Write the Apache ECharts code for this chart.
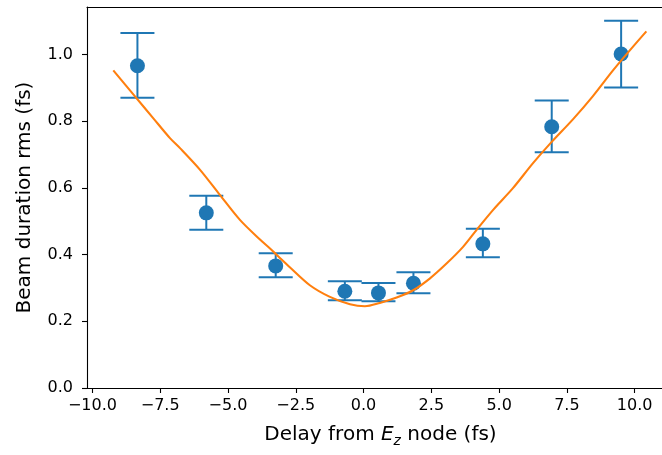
<!DOCTYPE html>
<html>
<head>
<meta charset="utf-8">
<script src="https://cdn.jsdelivr.net/npm/echarts@6/dist/echarts.min.js"></script>
<style>
html,body{margin:0;padding:0;background:#fff;}
#chart{width:662px;height:455px;}
</style>
</head>
<body>
<div id="chart"></div>
<script>
// Measured data points with error bars
const delays = [-8.34, -5.80, -3.24, -0.69, 0.55, 1.84, 4.40, 6.94, 9.50];
const durations = [0.966, 0.525, 0.366, 0.290, 0.285, 0.314, 0.432, 0.783, 1.001];
const errLow = [0.870, 0.474, 0.332, 0.263, 0.260, 0.284, 0.392, 0.707, 0.901];
const errHigh = [1.064, 0.576, 0.404, 0.320, 0.315, 0.347, 0.477, 0.862, 1.101];

// Fitted curve
const fitX = [-9.23, -8.43, -7.76, -7.14, -6.77, -6.03, -5.30, -4.56, -3.82, -3.45, -3.15, -2.72, -1.98, -1.24, -0.50, 0.05, 0.60, 1.22, 1.83, 2.44, 3.06, 3.67, 4.17, 4.78, 5.51, 6.25, 6.93, 7.73, 8.46, 9.20, 9.82, 10.43];
const fitY = [0.952, 0.874, 0.809, 0.749, 0.719, 0.654, 0.579, 0.504, 0.445, 0.418, 0.395, 0.362, 0.308, 0.273, 0.251, 0.245, 0.255, 0.271, 0.293, 0.328, 0.373, 0.423, 0.474, 0.534, 0.599, 0.674, 0.737, 0.806, 0.875, 0.952, 1.012, 1.069];

// Tick labels
const xTicks = [-10, -7.5, -5, -2.5, 0, 2.5, 5, 7.5, 10];
const yTicks = [0, 0.2, 0.4, 0.6, 0.8, 1.0];

const blue = '#1f77b4';
const orange = '#ff7f0e';
const font = 'DejaVu Sans';
const ink = '#000';

const fmt = v => (v < 0 ? '\u2212' : '') + Math.abs(v).toFixed(1);

const errData = delays.map((d, i) => [d, errLow[i], errHigh[i]]);
const pts = delays.map((d, i) => [d, durations[i]]);
const fit = fitX.map((x, i) => [x, fitY[i]]);

const chart = echarts.init(document.getElementById('chart'), null, {renderer: 'canvas'});
chart.setOption({
  animation: false,
  backgroundColor: '#fff',
  grid: {left: 87, top: 7, width: 587, height: 381, show: false, containLabel: false, outerBoundsMode: 'none'},
  xAxis: [{
    type: 'value', min: -10.2, max: 11.45,
    axisLine: {onZero: false, lineStyle: {color: ink, width: 1.1}},
    axisTick: {show: true, length: 5, customValues: xTicks, lineStyle: {color: ink, width: 1.1}},
    axisLabel: {customValues: xTicks, formatter: fmt, color: ink, fontFamily: font, fontSize: 16, margin: 10},
    splitLine: {show: false},
    name: '{a|Delay from }{e|E}{s|z}{a| node (fs)}',
    nameLocation: 'middle', nameGap: 34,
    nameTextStyle: {
      rich: {
        a: {fontFamily: font, fontSize: 20, color: ink, lineHeight: 26},
        e: {fontFamily: font, fontSize: 20, fontStyle: 'italic', color: ink, lineHeight: 26},
        s: {fontFamily: font, fontSize: 14, fontStyle: 'italic', color: ink, lineHeight: 26, padding: [12, 0, 0, 0]}
      }
    }
  }, {
    type: 'value', position: 'top', min: -10.2, max: 11.45,
    axisLine: {show: true, onZero: false, lineStyle: {color: ink, width: 1.1}},
    axisTick: {show: false}, axisLabel: {show: false}, splitLine: {show: false}
  }],
  yAxis: {
    type: 'value', min: 0, max: 1.142,
    axisLine: {show: true, onZero: false, lineStyle: {color: ink, width: 1.1}},
    axisTick: {show: true, length: 5, customValues: yTicks, lineStyle: {color: ink, width: 1.1}},
    axisLabel: {customValues: yTicks, formatter: fmt, color: ink, fontFamily: font, fontSize: 16, margin: 14},
    splitLine: {show: false},
    name: 'Beam duration rms (fs)',
    nameLocation: 'middle', nameGap: 52,
    nameTextStyle: {fontFamily: font, fontSize: 20, color: ink}
  },
  series: [
    {
      type: 'custom',
      data: errData,
      z: 2,
      renderItem: function (params, api) {
        const x = api.value(0);
        const lo = api.coord([x, api.value(1)]);
        const hi = api.coord([x, api.value(2)]);
        const cw = 17;
        const style = {stroke: blue, lineWidth: 2};
        return {
          type: 'group',
          children: [
            {type: 'line', shape: {x1: lo[0], y1: lo[1], x2: hi[0], y2: hi[1]}, style: style},
            {type: 'line', shape: {x1: lo[0] - cw, y1: lo[1], x2: lo[0] + cw, y2: lo[1]}, style: style},
            {type: 'line', shape: {x1: hi[0] - cw, y1: hi[1], x2: hi[0] + cw, y2: hi[1]}, style: style}
          ]
        };
      }
    },
    {
      type: 'scatter', data: pts, symbol: 'circle', symbolSize: 15, z: 3,
      itemStyle: {color: blue, opacity: 1}
    },
    {
      type: 'line', data: fit, smooth: 0.3, showSymbol: false, z: 4,
      lineStyle: {color: orange, width: 2.1}
    }
  ]
});
</script>
</body>
</html>
